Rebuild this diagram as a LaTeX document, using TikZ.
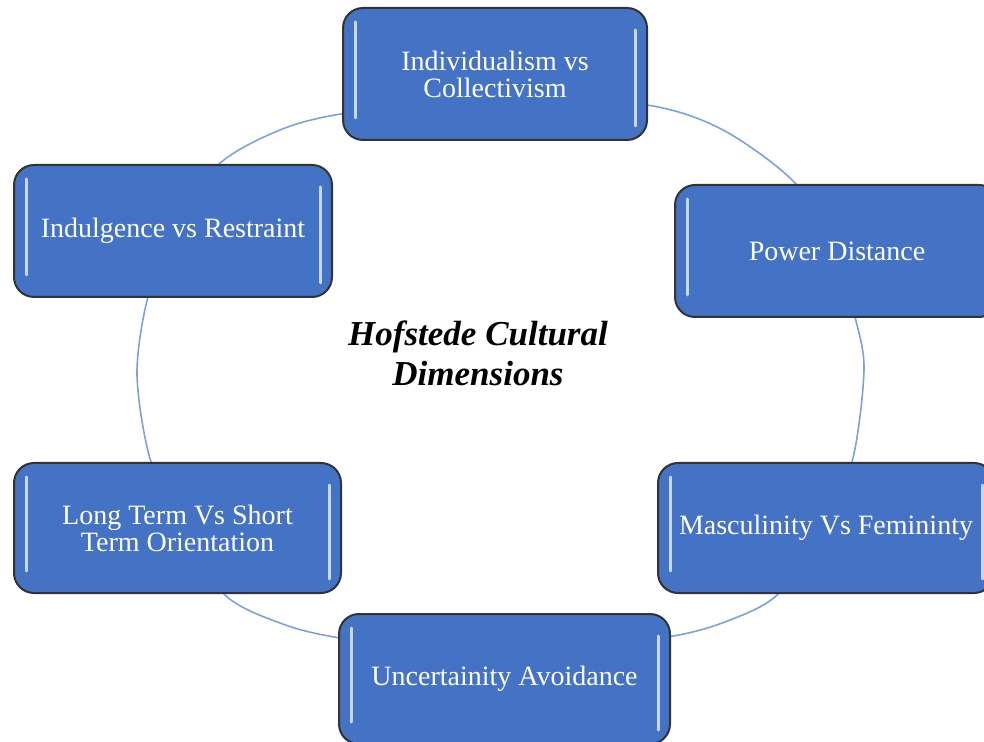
\documentclass[tikz,border=0pt]{standalone}
\usepackage{fontspec}
\setmainfont{Liberation Serif}
\usepackage{xcolor}
\definecolor{boxblue}{HTML}{4472C4}
\definecolor{ringblue}{HTML}{7EA1DB}
\definecolor{glint}{HTML}{D6E4F7}

\begin{document}
\begin{tikzpicture}[x=0.5pt,y=-0.5pt,
        dim/.style={rectangle,rounded corners=10pt,draw=black!80,line width=1pt,
            fill=boxblue,text=white,align=center,inner sep=2pt,
            font=\fontsize{14}{13.5}\selectfont,
            path picture={
                \draw[glint,line width=1.5pt,line cap=round,opacity=0.9]
                    ([xshift=6pt,yshift=-7pt]path picture bounding box.north west) --
                    ([xshift=6pt,yshift=11pt]path picture bounding box.south west);
                \draw[glint,line width=1.5pt,line cap=round,opacity=0.9]
                    ([xshift=-6pt,yshift=-11pt]path picture bounding box.north east) --
                    ([xshift=-6pt,yshift=7pt]path picture bounding box.south east);
            }},
        ring/.style={draw=ringblue,line width=0.8pt}]

    \useasboundingbox (0,0) rectangle (984,742);

    % ring behind the boxes
    \draw[ring] plot[smooth cycle] coordinates {
        (137,375) (148,297) (175,235) (217,166) (280,130) (347,113)
        (500,95) (647,105) (723,130) (795,183) (835,250) (855,317)
        (864,370) (852,462) (820,530) (778,594) (730,620) (668,637)
        (500,660) (340,638) (280,623) (225,595) (185,530) (151,462)};

    \node[dim,minimum width=152pt,minimum height=66pt] (ivc) at (495,74) {Individualism vs\\Collectivism};
    \node[dim,minimum width=162pt,minimum height=66pt] (pd) at (837,251) {Power Distance};
    \node[dim,minimum width=168pt,minimum height=65pt] (mvf) at (826,528) {Masculinity Vs Femininty};
    \node[dim,minimum width=165.5pt,minimum height=65pt] (ua) at (504.5,679) {Uncertainity Avoidance};
    \node[dim,minimum width=163.5pt,minimum height=65pt] (lts) at (177.5,528) {Long Term Vs Short\\Term Orientation};
    \node[dim,minimum width=159pt,minimum height=66pt] (ivr) at (173,231) {Indulgence vs Restraint};

    \node[font=\fontsize{17.5}{20}\selectfont\bfseries\itshape,align=center] (hcd) at (478,353)
        {Hofstede Cultural\\Dimensions};

\end{tikzpicture}
\end{document}
